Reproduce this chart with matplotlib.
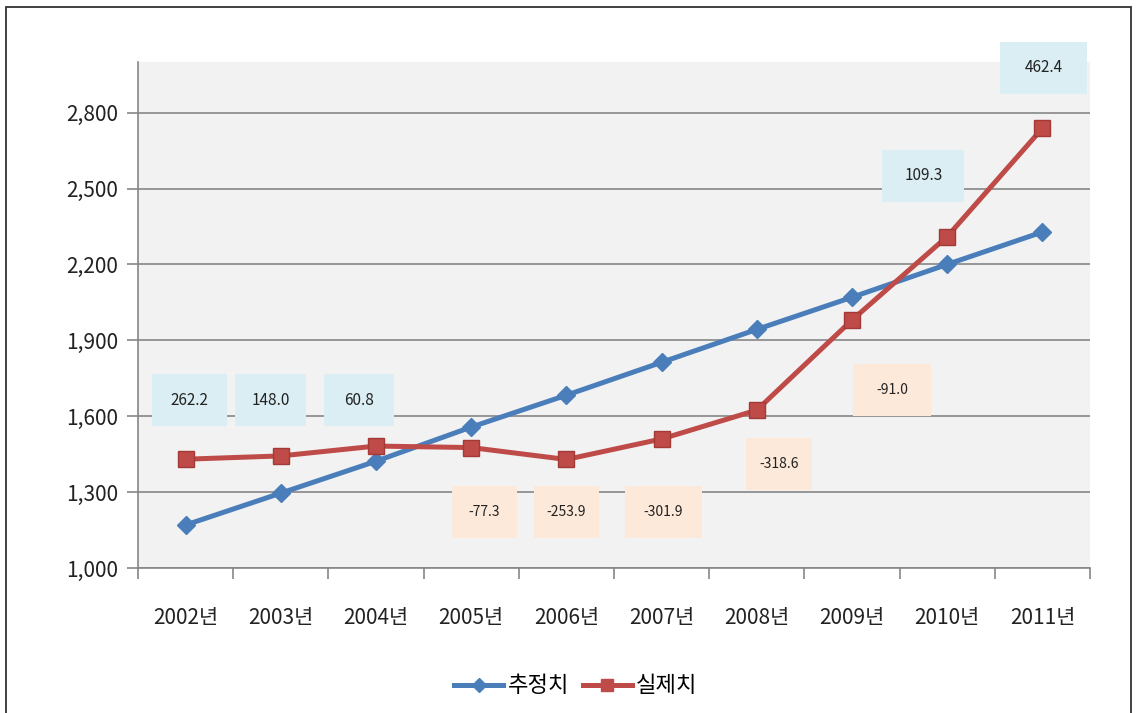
import matplotlib.pyplot as plt
from matplotlib.patches import Rectangle
from matplotlib.lines import Line2D

plt.rcParams['font.family'] = ['Noto Sans CJK KR', 'DejaVu Sans']

years = ['2002년', '2003년', '2004년', '2005년', '2006년',
         '2007년', '2008년', '2009년', '2010년', '2011년']
estimate = [1170, 1296, 1422, 1557, 1683, 1813, 1943, 2070, 2200, 2328]
actual = [1430, 1443, 1482, 1476, 1429, 1510, 1624, 1980, 2310, 2738]
diff_labels = ['262.2', '148.0', '60.8', '-77.3', '-253.9',
               '-301.9', '-318.6', '-91.0', '109.3', '462.4']

# where the difference boxes sit (x in category units, y in data units) and their widths
label_pos = [(0.04, 1663), (0.89, 1663), (1.82, 1663), (3.14, 1221), (4.0, 1221),
             (5.02, 1221), (6.23, 1410), (7.42, 1703), (7.75, 2551), (9.01, 2977)]
box_w = [0.79, 0.74, 0.74, 0.69, 0.69, 0.8, 0.69, 0.81, 0.86, 0.92]

blue = '#4a7ebb'
red = '#be4b48'
box_blue = '#dbeef4'
box_orange = '#fde9d9'

fig = plt.figure(figsize=(11.36, 7.13), dpi=100)
ax = fig.add_axes([138 / 1136, 1 - 568 / 713, (1090 - 138) / 1136, (568 - 62) / 713])
ax.set_facecolor('#f2f2f2')

x = list(range(len(years)))
ax.plot(x, estimate, color=blue, lw=3.6, marker='D', ms=9, mec=blue, mfc=blue, zorder=4)
ax.plot(x, actual, color=red, lw=3.6, marker='s', ms=11, mec='#a33a37', mfc=red, zorder=5)

for (lx, ly), w, txt in zip(label_pos, box_w, diff_labels):
    neg = txt.startswith('-')
    fc = box_orange if neg else box_blue
    h = 205
    ax.add_patch(Rectangle((lx - w / 2, ly - h / 2), w, h, facecolor=fc,
                           edgecolor='none', zorder=3, clip_on=False))
    ax.text(lx, ly, txt, ha='center', va='center', fontsize=10 if neg else 11,
            color='#222222', zorder=3.5)

ax.set_xlim(-0.5, 9.5)
ax.set_ylim(1000, 3000)
ax.set_yticks(range(1000, 2801, 300))
ax.set_yticklabels([f'{v:,}' for v in range(1000, 2801, 300)], fontsize=15, color='#222222')
ax.set_xticks(x)
ax.set_xticklabels(years, fontsize=15, color='#222222')
ax.set_xticks([i - 0.5 for i in range(len(years) + 1)], minor=True)
ax.tick_params(axis='x', which='major', length=0, pad=28)
ax.tick_params(axis='x', which='minor', length=8, color='#868686', width=1.2)
ax.tick_params(axis='y', length=8, color='#868686', width=1.2, pad=6)
ax.grid(axis='y', color='#868686', lw=1.2, zorder=1)
ax.set_axisbelow(True)
for s in ['top', 'right']:
    ax.spines[s].set_visible(False)
for s in ['left', 'bottom']:
    ax.spines[s].set_color('#868686')
    ax.spines[s].set_linewidth(1.2)

handles = [Line2D([], [], color=blue, lw=3.6, marker='D', ms=7),
           Line2D([], [], color=red, lw=3.6, marker='s', ms=9)]
fig.legend(handles, ['추정치', '실제치'], loc='center', bbox_to_anchor=(0.507, 1 - 686 / 713),
           ncol=2, frameon=False, fontsize=16, handlelength=2.2, handletextpad=0.2,
           columnspacing=0.6)

fig.add_artist(Rectangle((6 / 1136, -0.01), 1125 / 1136, 1 - 7 / 713 + 0.01,
                         transform=fig.transFigure, fill=False, edgecolor='#333333', lw=1.3))

plt.savefig('out.png', dpi=100)
plt.close()
